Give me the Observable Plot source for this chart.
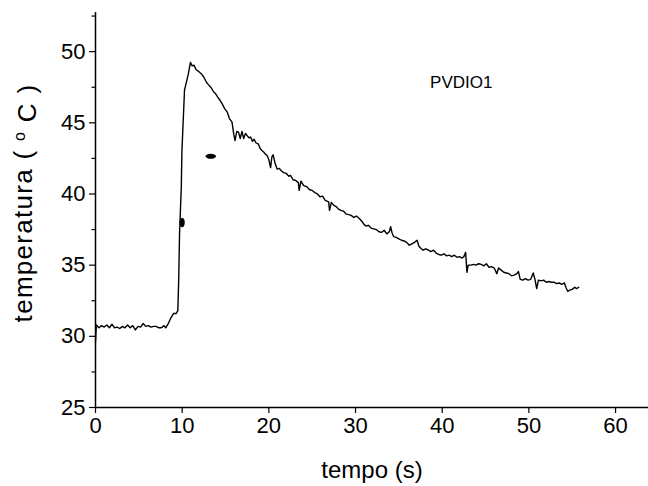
<!DOCTYPE html>
<html>
<head>
<meta charset="utf-8">
<script src="https://cdn.jsdelivr.net/npm/d3@7"></script>
<script src="https://cdn.jsdelivr.net/npm/@observablehq/plot@0.6"></script>
<style>
  html, body { margin: 0; padding: 0; background: #fff; }
  #chart { width: 648px; height: 486px; }
</style>
</head>
<body>
<div id="chart"></div>
<script>
// ---- data ----
const time = [0.0,0.1,0.4,0.7,1.0,1.3,1.6,1.9,2.2,2.5,2.8,3.1,3.4,3.7,4.0,4.3,4.6,4.9,5.2,5.5,5.8,6.1,6.4,6.7,7.0,7.3,7.6,7.9,8.1,8.4,8.7,9.0,9.3,9.5,9.6,9.7,9.9,9.97,10.27,10.5,10.7,10.95,11.15,11.35,11.6,11.9,12.2,12.5,12.8,13.0,13.3,13.6,13.85,14.1,14.35,14.6,14.9,15.2,15.45,15.75,15.95,16.1,16.3,16.5,16.7,16.9,17.1,17.3,17.5,17.7,17.9,18.1,18.3,18.5,18.8,19.0,19.2,19.4,19.6,19.8,20.0,20.2,20.35,20.5,20.7,20.95,21.2,21.4,21.7,22.0,22.3,22.5,22.8,23.1,23.4,23.5,23.7,24.0,24.4,24.7,25.0,25.3,25.6,25.9,26.2,26.5,26.9,27.0,27.2,27.5,27.8,28.0,28.3,28.6,28.9,29.2,29.5,29.8,30.1,30.4,30.7,31.0,31.2,31.5,31.8,32.1,32.4,32.7,33.0,33.3,33.6,33.9,34.05,34.2,34.4,34.7,35.0,35.3,35.6,35.9,36.2,36.5,36.8,37.1,37.3,37.5,37.8,38.1,38.4,38.7,39.0,39.3,39.6,39.9,40.2,40.5,40.8,41.1,41.4,41.7,42.0,42.3,42.5,42.7,42.85,43.0,43.3,43.6,43.9,44.2,44.5,44.8,45.1,45.4,45.7,46.0,46.3,46.5,46.8,47.1,47.4,47.7,48.0,48.3,48.6,48.8,49.0,49.3,49.6,49.9,50.2,50.5,50.7,50.9,51.1,51.4,51.7,52.0,52.3,52.6,52.9,53.2,53.5,53.8,54.1,54.3,54.5,54.7,55.0,55.3,55.5,55.75];
const temperature = [29.6,30.8,30.6,30.75,30.65,30.8,30.6,30.85,30.6,30.65,30.55,30.7,30.6,30.8,30.6,30.75,30.45,30.7,30.65,30.9,30.7,30.75,30.65,30.7,30.7,30.6,30.6,30.75,30.6,30.9,31.3,31.6,31.6,31.8,34.0,37.3,40.5,43.0,47.3,47.9,48.4,49.25,49.0,49.05,48.75,48.6,48.45,48.2,47.85,47.7,47.5,47.2,47.05,46.8,46.6,46.35,46.0,45.75,45.3,45.05,44.2,43.75,44.4,44.35,43.9,44.4,43.9,44.25,44.1,43.95,44.0,43.7,43.85,43.6,43.5,43.2,43.05,42.95,42.8,42.7,42.4,41.85,42.6,42.75,42.2,41.75,41.8,41.65,41.5,41.45,41.25,41.3,41.0,40.95,40.8,40.25,40.9,40.6,40.5,40.3,40.25,40.1,40.0,39.8,39.85,39.55,39.45,38.85,39.4,39.2,39.1,38.95,38.85,38.8,38.6,38.55,38.5,38.35,38.45,38.3,38.1,37.85,37.75,37.8,37.6,37.55,37.5,37.35,37.3,37.45,37.2,37.35,37.7,37.3,37.0,36.95,36.85,36.75,36.7,36.6,36.4,36.5,36.6,36.75,36.35,36.2,36.05,36.15,36.05,35.95,36.05,35.85,35.75,35.7,35.8,35.65,35.7,35.6,35.7,35.55,35.6,35.5,35.6,35.9,34.5,35.0,35.0,35.05,35.0,35.1,35.05,34.95,35.1,34.85,34.9,34.8,34.4,34.8,34.65,34.5,34.45,34.4,34.25,34.3,34.4,34.55,34.0,33.95,34.05,33.95,34.0,34.45,34.0,33.35,33.95,33.9,33.95,33.8,33.85,33.8,33.8,33.7,33.75,33.65,33.75,33.4,33.15,33.25,33.3,33.45,33.35,33.45];

const markerX = [10.0, 13.3];
const markerY = [38.0, 42.65];

const seriesName = "PVDIO1";
const seriesLabelX = [42.2];
const seriesLabelY = [47.8];

const xTicks = [0, 10, 20, 30, 40, 50, 60];
const yTicks = [25, 30, 35, 40, 45, 50];
const yMinorTicks = [27.5, 32.5, 37.5, 42.5, 47.5, 52.5];
const xLabel = "tempo (s)";
const yLabel = "temperatura ( °C )";

// ---- tables built from the arrays ----
const curve = time.map((t, i) => ({t, temp: temperature[i]}));
const markers = markerX.map((x, i) => ({x, y: markerY[i]}));
const seriesLabel = [{x: seriesLabelX[0], y: seriesLabelY[0], text: seriesName}];

// ellipse symbols (custom d3-style symbol types)
function ellipseSymbol(rx, ry) {
  const k = 0.5523;
  return {
    draw(ctx) {
      ctx.moveTo(rx, 0);
      ctx.bezierCurveTo(rx, ry * k, rx * k, ry, 0, ry);
      ctx.bezierCurveTo(-rx * k, ry, -rx, ry * k, -rx, 0);
      ctx.bezierCurveTo(-rx, -ry * k, -rx * k, -ry, 0, -ry);
      ctx.bezierCurveTo(rx * k, -ry, rx, -ry * k, rx, 0);
      ctx.closePath();
    }
  };
}
const verticalEllipse = ellipseSymbol(2.6, 4.8);
const horizontalEllipse = ellipseSymbol(5.2, 2.6);

const chart = Plot.plot({
  width: 648,
  height: 486,
  marginLeft: 95,
  marginRight: 0,
  marginTop: 12,
  marginBottom: 79,
  style: {fontFamily: "'Liberation Sans', Arial, sans-serif", fontSize: "22px", color: "#000", background: "#fff"},
  x: {domain: [0, 63.8]},
  y: {domain: [25, 52.75]},
  marks: [
    Plot.axisY({ticks: yMinorTicks, tickSize: 3.5, tickFormat: () => "", label: null, strokeWidth: 1.2}),
    Plot.axisY({ticks: yTicks, tickSize: 6, tickPadding: 4, strokeWidth: 1.2, label: yLabel, labelAnchor: "center", labelOffset: 82, labelArrow: "none"}),
    Plot.axisX({ticks: xTicks, tickSize: 6, tickPadding: 4, strokeWidth: 1.2, label: xLabel, labelAnchor: "center", labelOffset: 70, labelArrow: "none"}),
    Plot.ruleX([0], {stroke: "#000", strokeWidth: 1.5}),
    Plot.ruleY([25], {stroke: "#000", strokeWidth: 1.6}),
    Plot.line(curve, {x: "t", y: "temp", stroke: "#000", strokeWidth: 1.4}),
    Plot.dot(markers.slice(0, 1), {x: "x", y: "y", symbol: verticalEllipse, fill: "#000", stroke: "none"}),
    Plot.dot(markers.slice(1, 2), {x: "x", y: "y", symbol: horizontalEllipse, fill: "#000", stroke: "none"}),
    Plot.text(seriesLabel, {x: "x", y: "y", text: "text", fontSize: 17, fill: "#000"})
  ]
});
document.getElementById("chart").append(chart);

// enlarge the axis titles and draw the degree sign as a superscript "o"
d3.select(chart).selectAll("text").each(function () {
  const t = this.textContent;
  if (t === xLabel) {
    d3.select(this).style("font-size", "24px");
  } else if (t === yLabel) {
    const sel = d3.select(this).style("font-size", "26px").style("letter-spacing", "1.3px").attr("dx", 7);
    sel.text(null);
    sel.append("tspan").text("temperatura ( ");
    sel.append("tspan").attr("dy", "-0.45em").style("font-size", "16px").text("o");
    sel.append("tspan").attr("dy", "0.45em").text(" C )");
  }
});
</script>
</body>
</html>
